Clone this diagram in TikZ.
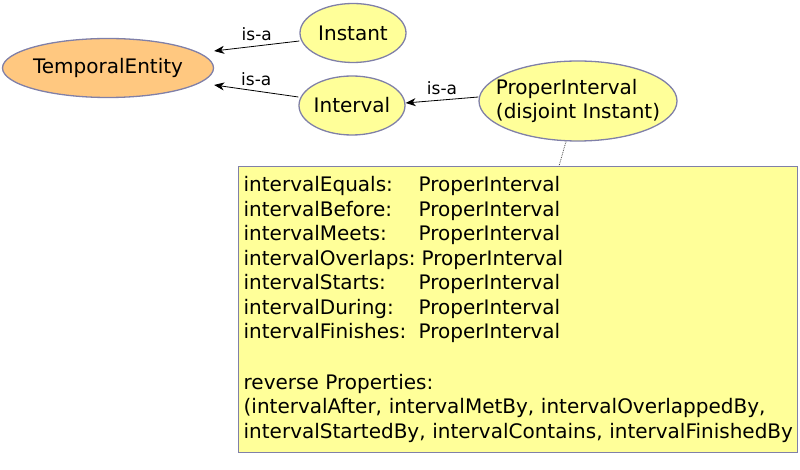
\documentclass[tikz,border=0pt]{standalone}
\usepackage{fontspec}
\setmainfont{DejaVu Sans}
\usetikzlibrary{shapes.geometric,arrows.meta}
\definecolor{conceptyellow}{RGB}{255,255,153}
\definecolor{conceptorange}{RGB}{255,200,128}
\definecolor{conceptborder}{RGB}{128,128,168}
\newcommand{\proprow}[1]{\makebox[175pt][l]{#1}ProperInterval}

\begin{document}
\begin{tikzpicture}[x=1pt, y=-1pt,
    every node/.style={font=\fontsize{20}{24.5}\selectfont},
    concept/.style={ellipse, draw=conceptborder, line width=1.3pt, fill=conceptyellow, inner xsep=-20pt, inner ysep=0pt},
    isa/.style={-{Stealth[length=10pt,width=8pt,inset=3pt]}, line width=0.8pt},
    isalabel/.style={font=\fontsize{17}{20}\selectfont}]

        \useasboundingbox (0,0) rectangle (800,470);

        % Concepts
        \node[concept, fill=conceptorange, minimum width=211, minimum height=59] (temporalEntity) at (108,68) {TemporalEntity\hspace{24pt}};
        \node[concept, minimum width=106, minimum height=59] (instant) at (353,33) {Instant};
        \node[concept, minimum width=106, minimum height=59] (interval) at (352,105.5) {Interval};
        \node[concept, minimum width=198, minimum height=80, align=left] (properInterval) at (578,101) {%
            ProperInterval\\(disjoint Instant)};

        % Property box
        \node[draw=conceptborder, line width=1.3pt, fill=conceptyellow, anchor=north west, minimum width=559, minimum height=286,
              text width=549, inner sep=5pt, align=left] (propBox) at (238,166) {%
            \proprow{intervalEquals:}\\
            \proprow{intervalBefore:}\\
            \proprow{intervalMeets:}\\
            \makebox[178pt][l]{intervalOverlaps:}ProperInterval\\
            \proprow{intervalStarts:}\\
            \proprow{intervalDuring:}\\
            \proprow{intervalFinishes:}\\[26pt]
            reverse Properties:\\
            (intervalAfter, intervalMetBy, intervalOverlappedBy,\\
            \makebox[0pt][l]{intervalStartedBy, intervalContains, intervalFinishedBy}};

        % is-a links
        \draw[isa] (instant.west |- 0,41) -- (temporalEntity.east |- 0,51) node[isalabel, midway, above=2pt] {is-a};
        \draw[isa] (interval.west |- 0,97) -- (temporalEntity.east |- 0,85) node[isalabel, midway, above=2pt] {is-a};
        \draw[isa] (properInterval.west |- 0,97) -- (interval.east |- 0,103) node[isalabel, midway, above=2pt] {is-a};

        % note link
        \draw[densely dotted, line width=0.8pt, black!70] (properInterval.south) ++(-12,0) coordinate (noteStart) -- (propBox.north west -| 559,0);

    \end{tikzpicture}
\end{document}
